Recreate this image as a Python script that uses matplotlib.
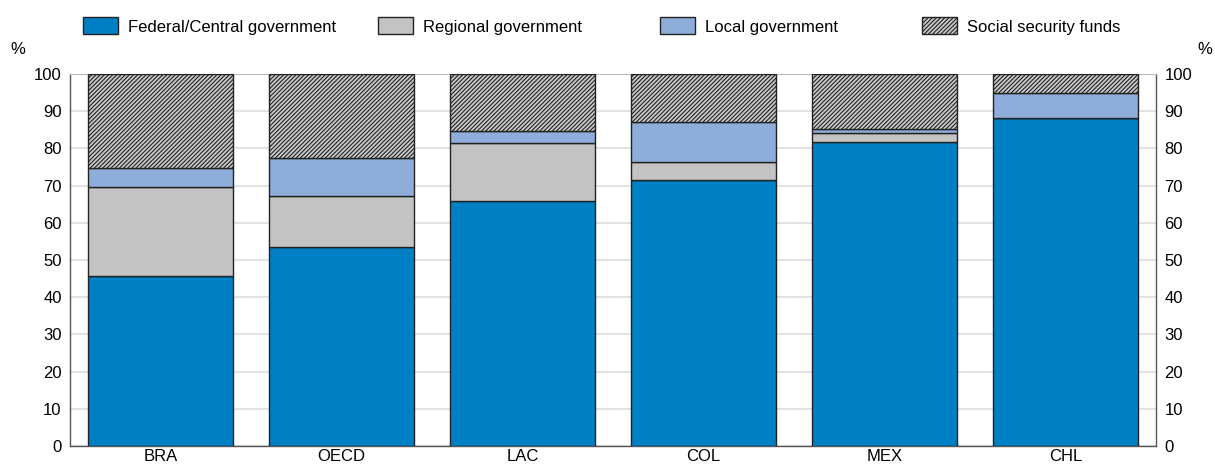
import matplotlib
matplotlib.use("Agg")
import matplotlib.pyplot as plt
import numpy as np
from matplotlib.patches import Patch

plt.rcParams['font.family'] = ['Liberation Sans Narrow', 'Liberation Sans', 'DejaVu Sans']
plt.rcParams['hatch.linewidth'] = 0.8
plt.rcParams['hatch.color'] = '#222222'

# data (share of total, %)
countries = ['BRA', 'OECD', 'LAC', 'COL', 'MEX', 'CHL']
federal = [45.8, 53.4, 65.8, 71.4, 81.6, 88.1]
regional = [23.7, 13.8, 15.7, 4.9, 2.6, 0.0]
local = [5.1, 10.2, 3.3, 10.7, 0.9, 6.7]
social = [25.4, 22.6, 15.2, 13.0, 14.9, 5.2]
series_names = ['Federal/Central government', 'Regional government',
                'Local government', 'Social security funds']

fig = plt.figure(figsize=(12.15, 4.65), dpi=100)
ax = fig.add_axes([70/1215, 19/465, 1086/1215, 372/465])

x = np.arange(len(countries))
w = 0.8
edge = '#222222'
bottom = np.zeros(len(countries))
ax.bar(x, federal, w, bottom=bottom, color='#0080C4', edgecolor=edge, linewidth=1, zorder=3)
bottom += federal
ax.bar(x, regional, w, bottom=bottom, color='#C3C3C3', edgecolor=edge, linewidth=1, zorder=3)
bottom += regional
ax.bar(x, local, w, bottom=bottom, color='#8FADD9', edgecolor=edge, linewidth=1, zorder=3)
bottom += local
ax.bar(x, social, w, bottom=bottom, color='#C8C8C8', edgecolor=edge, hatch='////////',
       linewidth=1, zorder=3)

ax.set_xlim(-0.5, len(countries) - 0.5)
ax.set_ylim(0, 100)
ax.set_yticks(range(0, 101, 10))
ax.set_xticks(x)
ax.set_xticklabels(countries)
ax.grid(axis='y', color='#DDDDDD', linewidth=1.2, zorder=0)
ax.tick_params(axis='both', labelsize=12, length=0, colors='black')
ax.tick_params(axis='y', pad=6)
ax.tick_params(axis='x', pad=2)
for s in ['left', 'right', 'bottom']:
    ax.spines[s].set_color('#555555')
    ax.spines[s].set_linewidth(1)
ax.spines['top'].set_color('#BBBBBB')

ax2 = ax.twinx()
ax2.set_ylim(0, 100)
ax2.set_yticks(range(0, 101, 10))
ax2.tick_params(axis='y', labelsize=12, length=0, pad=6)
for s in ax2.spines.values():
    s.set_visible(False)

fig.text(18/1215, 1 - 49/465, '%', fontsize=12, ha='center', va='center')
fig.text(1205/1215, 1 - 49/465, '%', fontsize=12, ha='center', va='center')

handles = [Patch(facecolor='#0080C4', edgecolor=edge),
           Patch(facecolor='#C3C3C3', edgecolor=edge),
           Patch(facecolor='#8FADD9', edgecolor=edge),
           Patch(facecolor='#C8C8C8', edgecolor=edge, hatch='////////')]
# legend items placed one by one, like in the original
left_px = [83, 378, 660, 922]
for h, name, lx in zip(handles, series_names, left_px):
    fig.legend([h], [name], loc='center left', bbox_to_anchor=(lx/1215, 1 - 26/465),
               frameon=False, fontsize=12, handlelength=2.1, handleheight=1.2,
               handletextpad=0.6, borderpad=0, borderaxespad=0)

fig.savefig('out.png', dpi=100)
